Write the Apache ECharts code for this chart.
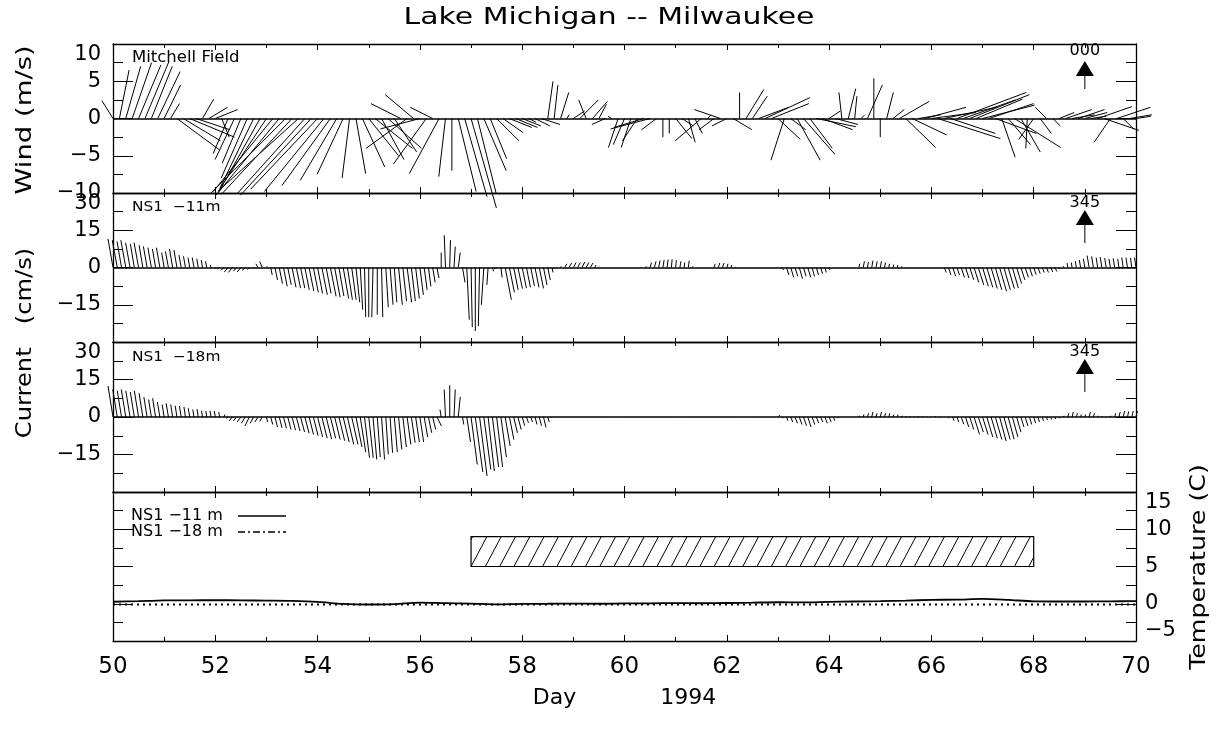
<!DOCTYPE html>
<html><head><meta charset="utf-8">
<script src="https://cdn.jsdelivr.net/npm/echarts/dist/echarts.min.js"></script>
<style>html,body{margin:0;padding:0;background:#fff}#c{width:1225px;height:729px}</style>
</head><body><div id="c"></div>
<script>
// ---------- DATA ----------
const dayTicks = [50,52,54,56,58,60,62,64,66,68,70];
const windTicks = [-10,-5,0,5,10];
const curTicks = [-15,0,15,30];
const tempTicks = [-5,0,5,10,15];

// wind: 3-hourly samples from day 50 (m/s, plot frame, rotation 000)
const windStart = 50, windStep = 0.125;
const windU = [
-1.5,1.3,2.0,2.6,3.0,3.2,2.8,3.0,
2.2,1.2,5.7,5.0,6.0,4.5,1.5,2.5,
3.0,1.0,-2.0,-2.6,-2.5,-3.5,-4.5,-5.5,
-6.5,-8.0,-8.5,-10.0,-9.5,-10.5,-9.0,-9.5,
-9.0,-8.0,-6.5,-4.9,-3.5,-1.0,1.3,3.0,
4.0,5.0,3.0,4.5,3.0,-4.0,-5.5,-3.8,
-5.3,-4.4,-3.0,-4.0,-0.9,0.0,2.4,3.0,
3.4,2.5,3.0,2.2,3.0,2.7,3.0,2.9,
2.5,1.0,2.0,2.5,0.7,0.5,1.1,0.3,
1.5,2.5,-1.0,2.0,1.0,-1.8,-0.5,-1.3,
-1.5,-1.3,-2.0,-4.0,-5.3,-2.0,0.0,0.0,
2.2,1.5,0.9,1.0,-3.5,0.5,-2.0,-3.5,
-2.0,2.5,0.0,2.4,2.0,4.0,6.0,5.0,
3.0,-1.8,2.0,3.1,4.2,3.0,5.3,4.0,
1.5,3.0,-0.4,1.0,0.3,0.5,2.0,0.0,
0.0,0.9,1.5,4.0,4.0,4.6,3.0,5.5,
6.0,8.4,7.0,6.0,9.3,7.0,8.0,6.2,
7.0,6.0,5.5,1.8,3.0,6.2,2.6,-0.2,
-2.0,1.5,-1.5,1.0,2.0,3.5,3.0,3.5,
3.0,2.0,4.6,4.7,-2.2,4.5,1.5,3.0,
2.0];
const windV = [
2.4,6.5,7.0,7.5,7.2,7.6,7.0,6.3,
4.5,2.0,-4.2,-3.0,-2.5,-1.5,2.6,1.5,
1.2,-2.5,-4.7,-5.5,-6.0,-8.0,-9.3,-9.8,
-9.8,-9.8,-10.3,-10.0,-10.2,-9.5,-10.0,-10.3,
-9.5,-9.8,-9.0,-8.3,-7.5,-8.0,-7.4,-6.5,
-5.0,-4.0,-5.5,-4.0,-4.5,2.0,-4.0,3.2,
-1.4,-6.1,1.5,-7.4,-7.8,-7.0,-9.8,-10.5,
-12.0,-10.0,-7.0,-5.4,-3.0,-1.9,-1.2,-1.2,
-1.0,-0.5,-1.0,-0.8,5.0,4.5,3.5,0.5,
1.0,2.5,2.5,2.3,1.9,-0.8,0.3,-3.9,
-3.5,-3.9,-3.0,-1.2,-1.4,-1.5,-2.5,-2.0,
-2.7,-1.0,-3.2,-2.0,-3.0,0.5,-1.5,1.2,
-1.0,-1.5,3.5,3.9,3.0,1.5,2.8,2.0,
-2.8,-5.6,-1.5,-5.6,-4.8,-4.0,-1.1,-1.5,
1.0,-0.8,3.5,4.0,3.0,0.5,4.5,5.4,
-2.5,3.5,1.2,2.3,-3.9,-2.2,0.5,1.5,
0.8,-2.7,1.5,-2.0,3.5,2.5,3.2,2.6,
1.8,2.0,-2.0,-5.2,-3.5,-3.9,-4.5,-4.0,
-2.8,-2.0,1.5,-1.0,0.8,1.2,0.5,1.2,
0.8,0.3,1.6,-1.6,-3.2,1.5,-1.5,0.5,
0.3];

// currents: 2-hourly samples from day 50 (cm/s, plot frame, rotation 345)
const curStart = 50, curStep = 1/12;
const c11U = [
-2,-2,-1.8,-2,-1.8,-1.6,-1.8,-1.5,-1.5,-1.4,-1.3,-1.4,
-1,-1.2,-1.3,-1.2,-0.9,-0.8,-0.7,-0.7,-0.6,-0.5,-0.5,-0.3,
0,-0.8,-1.2,-1.5,-1.6,-1.3,-1.5,-1.2,-0.8,-0.4,-0.8,-1,
0.3,0.6,1,1.3,1.5,1.4,1.6,1.7,1.7,1.8,1.9,2,
2,2.2,2,2.3,2.2,2,2.2,2,1.8,1.5,1,0.5,
0,-0.5,0,0.5,1,1.2,1,1.5,1.5,1.8,1.6,1.5,
1.4,1.2,1,1,0.8,0,-0.5,0.3,0.5,0.8,1,1,
0.5,0,-0.5,-1,-0.5,0.5,-1,0.5,2.5,2,1.8,1.8,
1.7,1.6,1.5,1.6,1.7,1.4,1,0.4,0,0.3,0.8,1,
1.1,1.1,1.2,1.1,1,0.6,0.1,0,0,0,0,0,
0,0,0,0,0,0.2,0.6,0.7,0.6,0.5,0.4,0.3,
0.3,0.4,0.2,0.3,0.1,0,0,0,0,0.5,0.6,0.6,
0.5,0.3,0.1,0,0,0,0,0,0,0,0,0,
0,0.5,1,1.2,1.1,1.3,1,1.2,1,0.9,0.8,0.6,
0.3,0.1,0,0,0,0,0,0.3,0.5,0.4,0.5,0.5,
0.5,0.4,0.3,0.3,0.2,0.1,0,0,0,0,0,0,
0,0,0,0.8,1,1.2,1,1.3,1.4,1.6,1.9,2.2,
2.3,2.4,2.5,2.6,2.8,2.6,2.5,2.4,2,1.6,1.3,1.2,
1,0.9,0.8,0.8,0.8,0.7,0.2,-0.1,-0.3,-0.3,-0.4,-0.5,
-0.6,-0.8,-0.7,-0.6,-0.7,-0.6,-0.6,-0.6,-0.5,-0.6,-0.6,-0.5,
-0.6];
const c11V = [
11.5,11,10.5,11,10,9.5,10,9,8.5,8,7.5,8,
6,6.5,7.5,7,5,4.5,4,4,3.5,3,2.5,1,
0.2,-0.5,-1.2,-1.8,-2,-1.5,-1.8,-1.2,-0.8,-0.3,1.5,2.4,
0.5,-3,-5,-6.5,-7.6,-7,-8,-8.3,-8.3,-9,-9.5,-10,
-10.5,-11,-10.5,-11.6,-12,-11.5,-12.5,-13,-13,-14,-17,-20,
-20,-20,-19,-20,-16,-15,-14,-15,-13.6,-14,-13.5,-12.5,
-11,-9,-7.6,-6,-4.3,6,13,11,8.4,6,-6,-21,
-24,-25.6,-23.6,-15,-7,-1.5,-0.5,-4,-13,-10,-9,-8.5,
-8.3,-8,-7.5,-8,-8.4,-7,-5,-2,0.2,0.5,1.5,1.8,
2,2,2.2,2,1.8,1,0.3,0.1,0.1,0.1,0.1,0.1,
0.1,0.1,0.1,0.1,0.1,0.5,2,2.5,2.8,3,3.2,3.3,
3,2.5,2,2.8,0.5,0.1,0.1,0.1,0.1,1.5,1.8,1.8,
1.5,1,0.3,0.1,0.2,0.1,0.1,0.1,0.1,0.1,0.1,0.1,
0.2,-1,-3,-4,-3.5,-4.5,-3.5,-4,-3.6,-3,-2.5,-2,
-1,-0.2,0.1,0.1,0.1,0.1,0.1,1.5,2.5,2.2,2.8,2.5,
2.5,2,1.5,1.2,1,0.5,0.1,0.2,0.1,0.1,0.1,0.1,
0.1,0.1,0.2,-2,-3,-3.5,-3,-4,-4.3,-5,-6,-7,
-7.5,-8,-8.5,-9,-9.6,-9,-8.5,-8.3,-6.5,-5,-4,-3.5,
-2.9,-2.5,-2,-2,-1.8,-1.6,-0.5,0.5,1.8,2,2.5,3,
3.5,4.8,4.5,4,4.2,3.8,3.5,3.7,3.5,4,4,3.8,
4];
const c18U = [
-2,-1.8,-1.7,-1.8,-1.7,-1.6,-1.7,-1.5,-1.3,-1.1,-1.2,-1,
-0.8,-0.9,-0.8,-0.7,-0.7,-0.6,-0.6,-0.5,-0.5,-0.4,-0.4,-0.4,
-0.4,-0.3,0.5,-0.8,-1.2,-1.3,-1.5,-1.5,-1.8,-1.4,-1.2,-1,
0.5,0.8,1,1.1,1.2,1.3,1.4,1.5,1.6,1.7,1.8,1.9,
2,2.1,2.2,2.1,2.2,2.3,2.4,2.5,2.5,2.4,2.2,2,
1.8,1.5,1.2,1.2,1,1,1.2,1.3,1.4,1.5,1.5,1.5,
1.5,1.4,1.3,1.2,1.8,-0.5,-0.5,0,0.5,0.8,0.5,1.5,
2.5,3,3,2.8,2.5,2.5,2.4,2.2,2,1.8,1.5,1.3,
1,0.8,0.7,0.8,0.9,1,0.6,0,0,0,0,0,
0,0,0,0,0,0,0,0,0,0,0,0,
0,0,0,0,0,0,0,0,0,0,0,0,
0,0,0,0,0,0,0,0,0,0,0,0,
0,0,0,0,0,0,0,0,0,0,0,0,
0.8,0.3,0.6,0.8,1,1.1,1.2,1.3,1.1,1,0.9,1,
0.8,0.6,0.2,0,0,0,0,0.2,0.3,0.4,0.5,0.4,
0.5,0.4,0.4,0.3,0.3,0.2,0.1,0,0,0,0,0,
0,0,0,0,0.2,0.5,0.7,1,1.3,1.6,2.2,2,
2.2,2.4,2.5,2.6,2.6,2.5,2.4,2.2,1.7,1.2,1.1,0.9,
0.8,0.6,0.5,0.4,0.3,0.3,0.2,0.2,0.4,0.5,0.4,0.3,
0.3,0.5,0.4,0.2,0.1,0.1,0.2,0.4,0.5,0.6,0.5,0.6,
0.6];
const c18V = [
12.4,11,10.5,11,10.5,10,10.5,9.5,8,7,7.5,6,
5,5.5,5,4.5,4.4,4,3.5,3,3.2,2.5,2.4,2.5,
2.4,2,1,-0.5,-1.5,-1.6,-2,-2.5,-3.6,-2.5,-2,-1.8,
-2,-3,-4,-4.3,-4.5,-5,-5.3,-5.6,-6,-6.5,-7,-7.5,
-8,-8.5,-8.9,-8.5,-9,-9.5,-10,-10.9,-11,-12,-14,-16.3,
-16.3,-17,-16,-17,-15,-14.3,-14,-13,-12,-11,-10.3,-10,
-10,-8,-6.3,-5,-3.6,3,11,12.7,11,8,-3,-10,
-19,-22,-23.6,-21,-21.6,-20,-20,-16,-11.6,-9,-6.3,-5,
-3.5,-2.3,-2,-3,-3.5,-4.2,-2,-0.2,-0.1,-0.1,-0.1,-0.1,
-0.1,-0.1,-0.1,-0.1,-0.1,-0.1,-0.1,-0.1,-0.1,-0.1,-0.1,-0.1,
-0.1,-0.1,-0.1,-0.1,-0.1,-0.1,-0.1,-0.1,-0.1,-0.1,-0.1,-0.1,
-0.1,-0.1,-0.1,-0.1,-0.1,-0.1,-0.1,-0.1,-0.1,-0.1,-0.1,-0.1,
-0.1,-0.1,-0.1,-0.1,-0.1,-0.1,-0.1,-0.1,-0.1,-0.1,-0.1,-0.1,
0.8,-0.5,-1.5,-2,-2.5,-3,-3.5,-4,-3,-2.5,-2,-2.5,
-2,-1.5,-0.5,0,0,0,0,0.5,1,1.5,2,1.5,
2,1.5,1.5,1,1,0.5,0.3,0.2,0.2,0.3,0.2,0.2,
0.1,0.3,0.2,0.1,-0.5,-1.5,-2,-2.9,-4,-5,-6.9,-6,
-7,-8,-8.5,-9,-9.6,-9,-8.9,-8,-6,-4,-3.6,-3,
-2.5,-2,-1.5,-1.2,-1,-0.8,-0.5,0.5,1.5,2,1.5,1,
1,2,1.5,0.5,0.3,0.2,0.5,1.5,2,2.4,2.2,2.4,
2.4];

// temperature: half-day samples from day 50 (deg C)
const tempStart = 50, tempStep = 0.5;
const temp11 = [0.27,0.35,0.44,0.46,0.48,0.45,0.42,0.38,0.25,-0.02,-0.1,-0.06,0.15,0.08,0.02,-0.08,-0.02,0.0,0.02,0.0,
0.05,0.06,0.08,0.07,0.1,0.14,0.2,0.18,0.25,0.3,0.35,0.42,0.52,0.55,0.66,0.52,0.32,0.3,0.3,0.32,0.35];
const temp18 = [-0.1,-0.1,-0.1,-0.1,-0.1,-0.1,-0.1,-0.1,-0.1,-0.1,-0.1,-0.1,-0.1,-0.1,-0.1,-0.1,-0.1,-0.1,-0.1,-0.1,
-0.1,-0.1,-0.1,-0.1,-0.1,-0.1,-0.1,-0.1,-0.1,-0.1,-0.1,-0.1,-0.1,-0.1,-0.1,-0.1,-0.1,-0.1,-0.1,-0.1,-0.1];
// hatched box: [dayStart, dayEnd, tempLow, tempHigh]
const hatchBox = [57, 68, 5, 9];
// rotation arrows
const arrowDay = 69;
const arrowLabels = ['000','345','345'];
const panelNames = ['Mitchell Field','NS1  \u221211m','NS1  \u221218m'];
const seriesNames = ['NS1 \u221211 m','NS1 \u221218 m'];

// ---------- CHART ----------
const FONT = '"DejaVu Sans", sans-serif';
const BLACK = '#000';
const minus = v => (v < 0 ? '\u2212' + Math.abs(v) : String(v));
const tickFmt = list => v => (list.indexOf(v) >= 0 ? minus(v) : '');
const seq = (s, st, n) => Array.from({length:n}, (_, i) => +(s + i*st).toFixed(4));

const windT = seq(windStart, windStep, windU.length);
const curT = seq(curStart, curStep, c11U.length);
const tempT = seq(tempStart, tempStep, temp11.length);

const grids = [
  {left:113, right:89, top:44, height:149},
  {left:113, right:89, top:193, height:149},
  {left:113, right:89, top:342, height:150},
  {left:113, right:89, top:492, height:149}
];
grids.forEach(g => { g.containLabel = false; g.outerBoundsMode = 'none'; });

function xAx(gi, pos, showLabel) {
  const a = {type:'value', gridIndex:gi, position:pos, min:50, max:70, interval:2,
    axisLine:{show:true, onZero:false, lineStyle:{color:BLACK, width:1.3}},
    axisTick:{show:true, inside:true, length:6, lineStyle:{color:BLACK, width:1}},
    minorTick:{show:true, splitNumber:2, length:4, lineStyle:{color:BLACK, width:1}},
    splitLine:{show:false}, minorSplitLine:{show:false},
    axisLabel:{show:showLabel, color:BLACK, fontSize:23, fontFamily:FONT, margin:15, formatter:tickFmt(dayTicks)}};
  if (showLabel) {
    a.name = 'Day            1994'; a.nameLocation = 'middle'; a.nameGap = 46;
    a.nameTextStyle = {color:BLACK, fontSize:22, fontFamily:FONT};
  }
  return a;
}
function yAx(gi, pos, min, max, interval, ticks, showLabel, extra) {
  return {type:'value', gridIndex:gi, position:pos, min, max, interval,
    axisLine:{show:true, onZero:false, lineStyle:{color:BLACK, width:1.3}},
    axisTick:{show:true, inside:true, length:20, lineStyle:{color:BLACK, width:1}},
    minorTick:{show:true, splitNumber:2, length:10, lineStyle:{color:BLACK, width:1}},
    splitLine:{show:false}, minorSplitLine:{show:false},
    axisLabel:Object.assign({show:showLabel, color:BLACK, fontSize:21, fontFamily:FONT,
      margin: pos === 'left' ? 12 : 9, formatter:tickFmt(ticks)}, extra || {})};
}

const xAxes = [], yAxes = [];
for (let g = 0; g < 4; g++) { xAxes.push(xAx(g, 'bottom', g === 3)); xAxes.push(xAx(g, 'top', false)); }
yAxes.push(yAx(0,'left',-10,10,5,windTicks,true,{verticalAlignMaxLabel:'top'}));
yAxes.push(yAx(0,'right',-10,10,5,windTicks,false));
yAxes.push(yAx(1,'left',-30,30,15,curTicks,true,{verticalAlignMaxLabel:'top'}));
yAxes.push(yAx(1,'right',-30,30,15,curTicks,false));
yAxes.push(yAx(2,'left',-30,30,15,curTicks,true,{verticalAlignMaxLabel:'top'}));
yAxes.push(yAx(2,'right',-30,30,15,curTicks,false));
yAxes.push(yAx(3,'left',-5,15,5,tempTicks,false));
yAxes.push(yAx(3,'right',-5,15,5,tempTicks,true,{verticalAlignMaxLabel:'top', verticalAlignMinLabel:'bottom'}));

function stickSeries(gi, t, u, v) {
  return {type:'custom', xAxisIndex:2*gi, yAxisIndex:2*gi, clip:false, silent:true,
    data: t.map((x, i) => [x, u[i], v[i]]),
    encode:{x:0, y:2},
    renderItem(params, api) {
      const tt = api.value(0), uu = api.value(1), vv = api.value(2);
      const base = api.coord([tt, 0]);
      const tip = api.coord([tt, vv]);
      const k = api.size([0, 1])[1];
      return {type:'line', shape:{x1:base[0], y1:base[1], x2:base[0] + uu*k, y2:tip[1]},
        style:{stroke:BLACK, lineWidth:1}};
    },
    markLine:{silent:true, symbol:['none','none'], label:{show:false},
      lineStyle:{color:BLACK, width:1.6, type:'solid'}, data:[{yAxis:0}]}
  };
}
function arrowSeries(gi, ymax, label, o) {
  return {type:'custom', xAxisIndex:2*gi, yAxisIndex:2*gi, clip:false, silent:true,
    data:[[arrowDay, ymax]],
    renderItem(params, api) {
      const c = api.coord([api.value(0), api.value(1)]);
      const x = c[0], y = c[1];
      return {type:'group', children:[
        {type:'text', x:x, y:y+o[0], style:{text:label, fill:BLACK, font:'16px ' + FONT, align:'center', verticalAlign:'middle'}},
        {type:'polygon', shape:{points:[[x-9, y+o[2]], [x+9, y+o[2]], [x, y+o[1]]]}, style:{fill:BLACK}},
        {type:'line', shape:{x1:x, y1:y+o[2], x2:x, y2:y+o[3]}, style:{stroke:BLACK, lineWidth:1}}
      ]};
    }};
}
const hatchSeries = {type:'custom', xAxisIndex:6, yAxisIndex:6, silent:true,
  data:[hatchBox], encode:{x:[0,1], y:[2,3]},
  renderItem(params, api) {
    const p0 = api.coord([api.value(0), api.value(3)]);
    const p1 = api.coord([api.value(1), api.value(2)]);
    const x0 = p0[0], yt = p0[1], x1 = p1[0], yb = p1[1];
    const h = yb - yt, dx = h * 0.53, step = 14.3;
    const kids = [{type:'rect', shape:{x:x0, y:yt, width:x1-x0, height:h}, style:{fill:'none', stroke:BLACK, lineWidth:1.2}}];
    for (let xb = x0 - 2*step; xb <= x1; xb += step) {
      let xs = xb, ys = yb, xe = xb + dx, ye = yt;
      if (xs < x0) { ys = yb - (x0 - xs) * h / dx; xs = x0; }
      if (xe > x1) { ye = yt + (xe - x1) * h / dx; xe = x1; }
      if (xs < xe) kids.push({type:'line', shape:{x1:xs, y1:ys, x2:xe, y2:ye}, style:{stroke:BLACK, lineWidth:1}});
    }
    return {type:'group', children:kids};
  }};

const series = [
  stickSeries(0, windT, windU, windV),
  stickSeries(1, curT, c11U, c11V),
  stickSeries(2, curT, c18U, c18V),
  arrowSeries(0, 10, arrowLabels[0], [7, 17, 32, 45]),
  arrowSeries(1, 30, arrowLabels[1], [10, 17, 32, 50]),
  arrowSeries(2, 30, arrowLabels[2], [10, 17, 32, 50]),
  hatchSeries,
  {type:'line', name:seriesNames[0], xAxisIndex:6, yAxisIndex:6, symbol:'none', smooth:0.3,
    data: tempT.map((t, i) => [t, temp11[i]]), lineStyle:{color:BLACK, width:1.8}, itemStyle:{color:BLACK}},
  {type:'line', name:seriesNames[1], xAxisIndex:6, yAxisIndex:6, symbol:'none',
    data: tempT.map((t, i) => [t, temp18[i]]), lineStyle:{color:BLACK, width:1.8, type:[2,4]}, itemStyle:{color:BLACK}}
];

const txt = (text, x, y, size, opts) => Object.assign({type:'text', x, y, silent:true,
  style:{text, fill:BLACK, font: size + 'px ' + FONT, align:'center', verticalAlign:'middle'}}, opts || {});

const option = {
  animation:false, backgroundColor:'#fff',
  grid: grids, xAxis: xAxes, yAxis: yAxes, series,
  legend:{show:true, orient:'vertical', left:126, top:503, itemGap:0, itemWidth:48, itemHeight:14, align:'right',
    selectedMode:false, itemStyle:{opacity:0},
    lineStyle:{width:1.3},
    formatter: name => name + '  ',
    textStyle:{color:BLACK, fontSize:16, fontFamily:FONT, lineHeight:14},
    data:[{name:seriesNames[0], itemStyle:{opacity:0}},
          {name:seriesNames[1], itemStyle:{opacity:0}, lineStyle:{type:[7,3,2,3], width:1.3}}]},
  graphic:[
    txt('Lake Michigan -- Milwaukee', 609, 18, 23, {scaleX:1.3}),
    txt('Wind (m/s)', 25, 120, 22, {rotation:Math.PI/2, scaleX:1.25}),
    txt('Current   (cm/s)', 25, 343, 22, {rotation:Math.PI/2, scaleX:1.1}),
    txt('Temperature (C)', 1199, 567, 22, {rotation:Math.PI/2, scaleX:1.15}),
    txt(panelNames[0], 132, 58, 15, {scaleX:1.1}),
    txt(panelNames[1], 132, 207, 14, {scaleX:1.1}),
    txt(panelNames[2], 132, 357, 14, {scaleX:1.1})
  ]
};
option.graphic.slice(4).forEach(g => { g.style.align = 'left'; });

const chart = echarts.init(document.getElementById('c'), null, {renderer:'canvas'});
chart.setOption(option);
</script></body></html>
